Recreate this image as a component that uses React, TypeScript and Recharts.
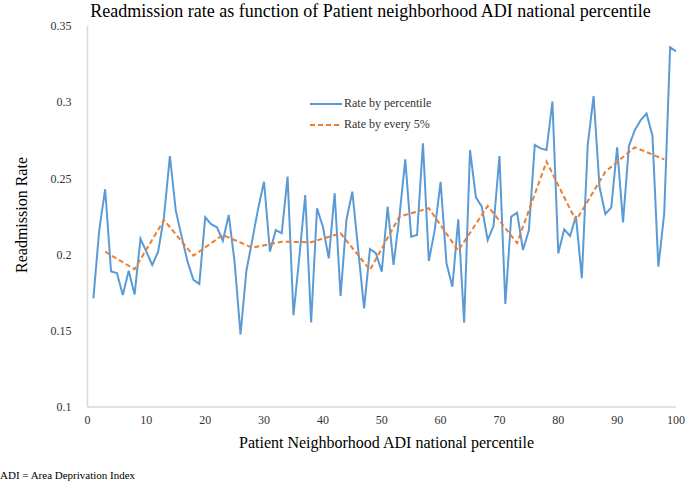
import { LineChart, Line, XAxis, YAxis } from 'recharts'

const percentiles = Array.from({ length: 100 }, (_, i) => i + 1)

const ratesByPercentile = [
  0.1713, 0.2162, 0.2429, 0.1889, 0.1879, 0.1735, 0.1894, 0.1738, 0.2104, 0.2019,
  0.1932, 0.2019, 0.2249, 0.2647, 0.2288, 0.2118, 0.1954, 0.1834, 0.1808, 0.2245,
  0.22, 0.2179, 0.2091, 0.226, 0.195, 0.1477, 0.1894, 0.2095, 0.2303, 0.2478,
  0.202, 0.2161, 0.214, 0.2512, 0.1603, 0.1986, 0.2391, 0.1554, 0.2303, 0.2183,
  0.1975, 0.2403, 0.1728, 0.2227, 0.2413, 0.2031, 0.1647, 0.2037, 0.201, 0.1888,
  0.2315, 0.1932, 0.2249, 0.2625, 0.2118, 0.2129, 0.273, 0.1958, 0.2161, 0.2478,
  0.1943, 0.1789, 0.2232, 0.1554, 0.2686, 0.2376, 0.2315, 0.2095, 0.2189, 0.2647,
  0.1676, 0.2249, 0.2275, 0.203, 0.216, 0.2719, 0.2697, 0.2686, 0.3004, 0.2008,
  0.2166, 0.2122, 0.2253, 0.1845, 0.2719, 0.3041, 0.2445, 0.2266, 0.231, 0.2704,
  0.2211, 0.2713, 0.2817, 0.2882, 0.2925, 0.278, 0.192, 0.2271, 0.336, 0.3334,
]

const fivePctMidpoints = [3, 8, 13, 18, 23, 28, 33, 38, 43, 48, 53, 58, 63, 68, 73, 78, 83, 88, 93, 98]
const ratesByFivePct = [
  0.2019, 0.1904, 0.2227, 0.1993, 0.2129, 0.2045, 0.2085, 0.2081, 0.214, 0.19,
  0.2249, 0.2304, 0.2026, 0.2319, 0.2076, 0.261, 0.2222, 0.2544, 0.2704, 0.2625,
]

const xTicks = [0, 10, 20, 30, 40, 50, 60, 70, 80, 90, 100]
const yTicks = [0.1, 0.15, 0.2, 0.25, 0.3, 0.35]

const percentileData = percentiles.map((x, i) => ({ x, rate: ratesByPercentile[i] }))
const fivePctData = fivePctMidpoints.map((x, i) => ({ x, rate: ratesByFivePct[i] }))

const serif = 'Liberation Serif'
const BLUE = '#5b9bd5'
const ORANGE = '#ed7d31'

const legendItems = [
  { label: 'Rate by percentile', color: BLUE, dash: undefined },
  { label: 'Rate by every 5%', color: ORANGE, dash: '5 3' },
]

export default function App() {
  return (
    <div style={{ position: 'absolute', left: 0, top: 0, width: 685, height: 485, background: '#fff', fontFamily: serif }}>
      <div style={{ position: 'absolute', left: 0, top: 0, width: 685, textAlign: 'center', paddingLeft: 56, boxSizing: 'border-box', fontSize: 18, lineHeight: '22px', color: '#000' }}>
        Readmission rate as function of Patient neighborhood ADI national percentile
      </div>
      <LineChart width={685} height={485} margin={{ top: 26, right: 9, bottom: 48, left: 0 }} style={{ fontFamily: serif }}>
        <XAxis
          type="number"
          dataKey="x"
          domain={[0, 100]}
          ticks={xTicks}
          tickLine={false}
          axisLine={{ stroke: '#d9d9d9', strokeWidth: 1.5 }}
          tick={{ fontFamily: serif, fontSize: 12, fill: '#333' }}
          tickMargin={2}
          height={30}
          allowDataOverflow
        />
        <YAxis
          type="number"
          domain={[0.1, 0.35]}
          ticks={yTicks}
          tickLine={false}
          axisLine={{ stroke: '#d9d9d9', strokeWidth: 1.5 }}
          tick={{ fontFamily: serif, fontSize: 12, fill: '#333' }}
          tickMargin={10}
          width={87.5}
          allowDataOverflow
        />
        <Line
          data={percentileData}
          dataKey="rate"
          stroke={BLUE}
          strokeWidth={2}
          dot={false}
          isAnimationActive={false}
          name="Rate by percentile"
        />
        <Line
          data={fivePctData}
          dataKey="rate"
          stroke={ORANGE}
          strokeWidth={2}
          strokeDasharray="5 3"
          dot={false}
          isAnimationActive={false}
          name="Rate by every 5%"
        />
      </LineChart>
      <div style={{ position: 'absolute', left: 310, top: 93, fontSize: 12, color: '#333' }}>
        {legendItems.map(it => (
          <div key={it.label} style={{ display: 'flex', alignItems: 'center', height: 21 }}>
            <svg width={32} height={6} style={{ marginRight: 2 }}>
              <line x1={0} y1={3} x2={32} y2={3} stroke={it.color} strokeWidth={2} strokeDasharray={it.dash} />
            </svg>
            <span>{it.label}</span>
          </div>
        ))}
      </div>
      <div style={{ position: 'absolute', left: 0, top: 434, width: 685, textAlign: 'center', paddingLeft: 88, boxSizing: 'border-box', fontSize: 16, color: '#000' }}>
        Patient Neighborhood ADI national percentile
      </div>
      <div style={{ position: 'absolute', left: 22, top: 215, transform: 'translate(-50%, -50%) rotate(-90deg)', whiteSpace: 'nowrap', fontSize: 16, color: '#000' }}>
        Readmission Rate
      </div>
      <div style={{ position: 'absolute', left: 0, top: 469, fontSize: 11, color: '#000' }}>
        ADI = Area Deprivation Index
      </div>
    </div>
  )
}
